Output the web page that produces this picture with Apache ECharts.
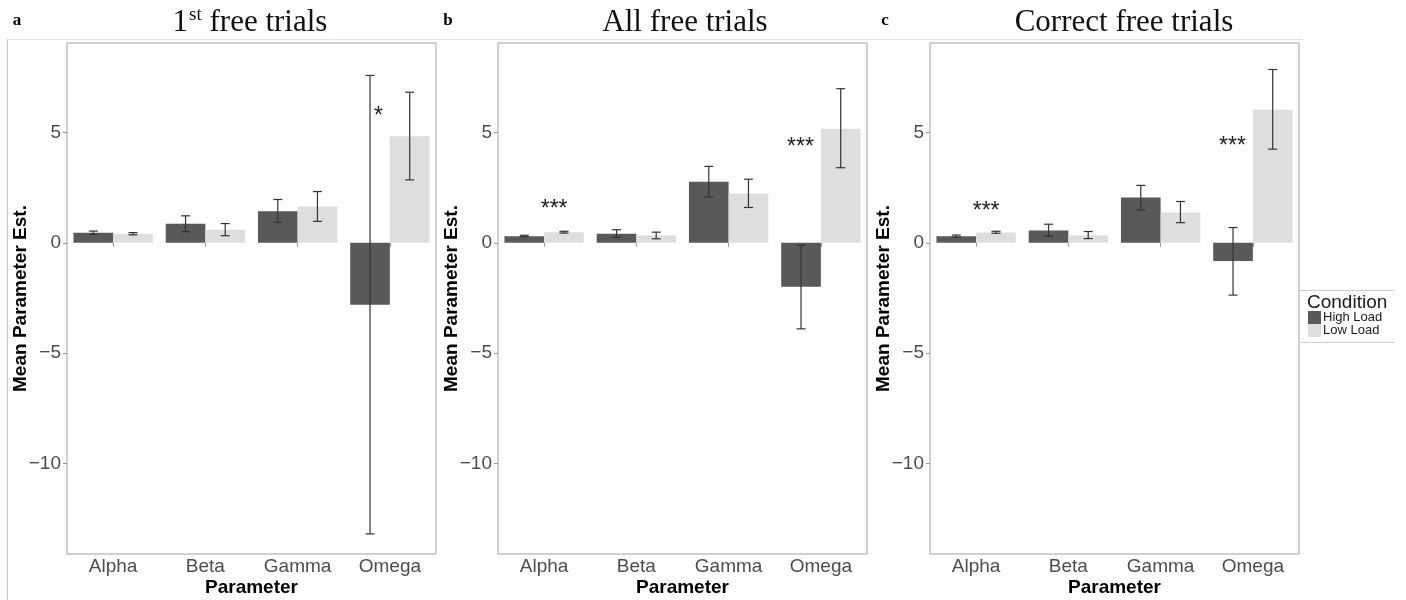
<!DOCTYPE html>
<html>
<head>
<meta charset="utf-8">
<script src="https://cdn.jsdelivr.net/npm/echarts@6/dist/echarts.min.js"></script>
<style>
html,body{margin:0;padding:0;background:#fff;overflow:hidden;}
#chart{width:1406px;height:600px;}
</style>
</head>
<body>
<div id="chart"></div>
<script>
// ---- data ----
const categories = ['Alpha', 'Beta', 'Gamma', 'Omega'];
const yTicks = [-10, -5, 0, 5];
const conditions = ['High Load', 'Low Load'];

// Panel a: 1st free trials
const firstHigh   = [0.45, 0.86, 1.43, -2.81];
const firstHighLo = [0.38, 0.50, 0.92, -13.19];
const firstHighHi = [0.53, 1.22, 1.96, 7.58];
const firstLow    = [0.41, 0.59, 1.64, 4.83];
const firstLowLo  = [0.36, 0.32, 0.97, 2.85];
const firstLowHi  = [0.46, 0.87, 2.32, 6.82];
const firstStars  = [['Omega', 5.95, '*']];

// Panel b: All free trials
const allHigh   = [0.30, 0.41, 2.76, -1.99];
const allHighLo = [0.27, 0.25, 2.07, -3.90];
const allHighHi = [0.34, 0.59, 3.46, -0.12];
const allLow    = [0.48, 0.34, 2.23, 5.17];
const allLowLo  = [0.44, 0.18, 1.60, 3.40];
const allLowHi  = [0.52, 0.48, 2.88, 6.98];
const allStars  = [['Alpha', 1.74, '***'], ['Omega', 4.55, '***']];

// Panel c: Correct free trials
const corrHigh   = [0.30, 0.56, 2.05, -0.83];
const corrHighLo = [0.25, 0.29, 1.49, -2.37];
const corrHighHi = [0.35, 0.84, 2.60, 0.69];
const corrLow    = [0.47, 0.34, 1.37, 6.03];
const corrLowLo  = [0.43, 0.19, 0.91, 4.24];
const corrLowHi  = [0.52, 0.51, 1.87, 7.85];
const corrStars  = [['Alpha', 1.65, '***'], ['Omega', 4.59, '***']];

const panelTitles = ['1st free trials', 'All free trials', 'Correct free trials'];
const panelLetters = ['a', 'b', 'c'];

// ---- build ----
const panels = [
  {high: firstHigh, highLo: firstHighLo, highHi: firstHighHi, low: firstLow, lowLo: firstLowLo, lowHi: firstLowHi, stars: firstStars},
  {high: allHigh, highLo: allHighLo, highHi: allHighHi, low: allLow, lowLo: allLowLo, lowHi: allLowHi, stars: allStars},
  {high: corrHigh, highLo: corrHighLo, highHi: corrHighHi, low: corrLow, lowLo: corrLowLo, lowHi: corrLowHi, stars: corrStars}
];
const gridLefts = [67, 498, 930];
const GAP = 0.14;
const DARK = '#595959', LIGHT = '#dedede';
const SANS = '"Liberation Sans", Arial, Helvetica, sans-serif';
const SERIF = '"Liberation Serif", "Times New Roman", serif';

function errRender(side) {
  return function (params, api) {
    const c = api.value(0);
    const lo = api.coord([c, api.value(1)]);
    const hi = api.coord([c, api.value(2)]);
    const band = api.size([1, 0])[0];
    const x = lo[0] + side * band * (1 - GAP) / 4;
    const w = 4.5;
    const st = {stroke: '#333', lineWidth: 1.2};
    return {type: 'group', children: [
      {type: 'line', shape: {x1: x, y1: lo[1], x2: x, y2: hi[1]}, style: st},
      {type: 'line', shape: {x1: x - w, y1: hi[1], x2: x + w, y2: hi[1]}, style: st},
      {type: 'line', shape: {x1: x - w, y1: lo[1], x2: x + w, y2: lo[1]}, style: st}
    ]};
  };
}
function starRender(stars) {
  return function (params, api) {
    const s = stars[params.dataIndex];
    const idx = categories.indexOf(s[0]);
    const p = api.coord([idx, s[1]]);
    const last = idx === categories.length - 1;
    return {
      type: 'text',
      x: last ? p[0] - 7 : p[0] + 10,
      y: p[1] + 5,
      style: {
        text: s[2], fill: '#222', font: '23px ' + SANS,
        align: last ? 'right' : 'center', verticalAlign: 'middle'
      }
    };
  };
}

const grids = [], xAxes = [], yAxes = [], series = [];
panels.forEach((p, k) => {
  grids.push({left: gridLefts[k], top: 43, width: 369, height: 511, show: true,
    borderColor: '#a3a3a3', borderWidth: 1, backgroundColor: '#fff',
    containLabel: false, outerBoundsMode: 'none'});
  xAxes.push({type: 'category', gridIndex: k, data: categories,
    name: 'Parameter', nameLocation: 'middle', nameGap: 24, nameMoveOverlap: false,
    nameTextStyle: {fontFamily: SANS, fontWeight: 'bold', fontSize: 19, color: '#000', verticalAlign: 'top'},
    axisLine: {show: false},
    axisTick: {show: true, alignWithLabel: true, length: 4, lineStyle: {color: '#999'}},
    axisLabel: {fontFamily: SANS, fontSize: 19, color: '#4d4d4d', margin: 3}
  });
  yAxes.push({type: 'value', gridIndex: k, min: -14.1, max: 9.05,
    name: 'Mean Parameter Est.', nameLocation: 'middle', nameGap: 37, nameRotate: 90, nameMoveOverlap: false,
    nameTextStyle: {fontFamily: SANS, fontWeight: 'bold', fontSize: 19, color: '#000'},
    axisLine: {show: false},
    splitLine: {show: false},
    axisTick: {show: true, length: 4, lineStyle: {color: '#999'}, customValues: yTicks},
    axisLabel: {fontFamily: SANS, fontSize: 19, color: '#4d4d4d', margin: 6, customValues: yTicks,
      formatter: v => String(v).replace('-', '\u2212')}
  });
  series.push({type: 'bar', name: conditions[0], xAxisIndex: k, yAxisIndex: k, data: p.high,
    barCategoryGap: (GAP * 100) + '%', barGap: '0%', itemStyle: {color: DARK}, z: 2});
  series.push({type: 'bar', name: conditions[1], xAxisIndex: k, yAxisIndex: k, data: p.low,
    barCategoryGap: (GAP * 100) + '%', barGap: '0%', itemStyle: {color: LIGHT}, z: 2});
  series.push({type: 'custom', xAxisIndex: k, yAxisIndex: k, renderItem: errRender(-1),
    encode: {x: 0, y: [1, 2]}, z: 5, silent: true,
    data: categories.map((c, i) => [i, p.highLo[i], p.highHi[i]])});
  series.push({type: 'custom', xAxisIndex: k, yAxisIndex: k, renderItem: errRender(1),
    encode: {x: 0, y: [1, 2]}, z: 5, silent: true,
    data: categories.map((c, i) => [i, p.lowLo[i], p.lowHi[i]])});
  series.push({type: 'custom', xAxisIndex: k, yAxisIndex: k, renderItem: starRender(p.stars),
    encode: {x: 0, y: 1}, z: 6, silent: true,
    data: p.stars.map(s => [categories.indexOf(s[0]), s[1]])});
});

const titleCenters = [250, 685, 1124];
const letterX = [17, 448, 885];
const graphic = [
  {type: 'line', shape: {x1: 7.5, y1: 39.5, x2: 1303, y2: 39.5}, style: {stroke: '#e4e4e4', lineWidth: 1}, z: 1},
  {type: 'line', shape: {x1: 7.5, y1: 39.5, x2: 7.5, y2: 600}, style: {stroke: '#c8c8c8', lineWidth: 1}, z: 1},
  {type: 'line', shape: {x1: 1300, y1: 290.5, x2: 1394, y2: 290.5}, style: {stroke: '#cfcfcf', lineWidth: 1}},
  {type: 'line', shape: {x1: 1300, y1: 342.5, x2: 1394, y2: 342.5}, style: {stroke: '#cfcfcf', lineWidth: 1}},
  {type: 'text', left: 1307, top: 293, style: {text: 'Condition', font: '19px ' + SANS, fill: '#1a1a1a'}}
];
panelTitles.forEach((t, k) => {
  let txt;
  if (k === 0) {
    txt = '{n|1}{s|st}{n| free trials}';
  } else {
    txt = '{n|' + t + '}';
  }
  graphic.push({type: 'text', x: titleCenters[k], y: 4,
    style: {text: txt, align: 'center', verticalAlign: 'top',
      rich: {n: {fontFamily: SERIF, fontSize: 31, fill: '#111', lineHeight: 34, verticalAlign: 'bottom'},
             s: {fontFamily: SERIF, fontSize: 19, fill: '#111', lineHeight: 34, verticalAlign: 'top', padding: [2, 0, 0, 1]}}}});
  graphic.push({type: 'text', x: letterX[k], y: 12,
    style: {text: panelLetters[k], font: 'bold 17px ' + SERIF, fill: '#000', align: 'center', verticalAlign: 'top'}});
});

const chart = echarts.init(document.getElementById('chart'), null, {renderer: 'canvas'});
chart.setOption({
  animation: false,
  backgroundColor: '#fff',
  grid: grids,
  xAxis: xAxes,
  yAxis: yAxes,
  series: series,
  legend: {data: conditions, orient: 'vertical', left: 1308, top: 311, icon: 'rect',
    itemWidth: 13, itemHeight: 13, itemGap: 0, padding: 0, selectedMode: false,
    textStyle: {fontFamily: SANS, fontSize: 13, color: '#1a1a1a', lineHeight: 13, padding: [0, 0, 0, -3]}},
  graphic: graphic
});
</script>
</body>
</html>
